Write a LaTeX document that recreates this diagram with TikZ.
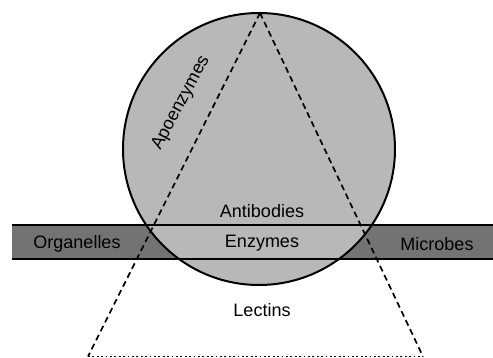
\documentclass[tikz,border=0pt]{standalone}
\usepackage{fontspec}
\setmainfont{Liberation Sans}
\usetikzlibrary{positioning}
\begin{document}
\begin{tikzpicture}[x=1pt, y=-1pt, node distance={14pt}, font=\fontsize{18}{21}\selectfont,
  cell/.style = {draw, circle, line width=2pt, fill=black!28, minimum size=272pt, inner sep=0pt},
  band/.style = {fill=black!55, minimum width=481pt, minimum height=34pt, inner sep=0pt},
  edge/.style = {line width=1.5pt},
  cone/.style = {line width=1.7pt, dash pattern=on 6pt off 4pt},
  rim/.style = {line width=1.5pt, dash pattern=on 1.8pt off 2.6pt}]
  \useasboundingbox (0,0) rectangle (493,358);
  \node[band] (membrane) at (252.5,242) {};
  \node[cell] (lectin) at (259,149) {};
  \draw[edge] (membrane.north west) -- (membrane.north east);
  \draw[edge] (membrane.south west) -- (membrane.south east);
  \coordinate (apex) at (260,13);
  \coordinate (left) at (88,356.5);
  \coordinate (right) at (423,356.5);
  \draw[cone] (apex) -- (left);
  \draw[cone] (apex) -- (right);
  \draw[rim] (left) -- (right);
  \node (enzymes) at (262,243) {Enzymes};
  \node (antibodies) [above=10pt of enzymes] {Antibodies};
  \node (lectins) at (262,310) {Lectins};
  \node (organelles) at (77,244) {Organelles};
  \node (microbes) at (437,244) {Microbes};
  \node[rotate=62] (apoenzymes) at (181,103) {Apoenzymes};
\end{tikzpicture}
\end{document}
